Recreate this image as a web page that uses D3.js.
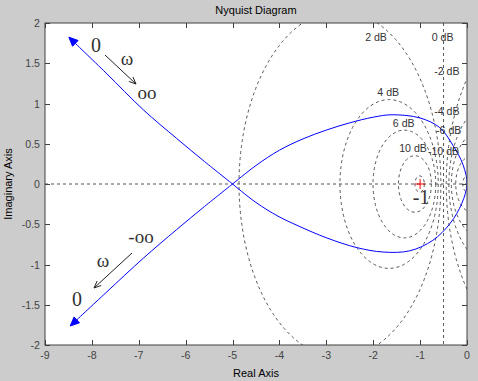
<!DOCTYPE html>
<html><head><meta charset="utf-8">
<script src="https://cdn.jsdelivr.net/npm/d3@7"></script>
<style>html,body{margin:0;padding:0;background:#cccccc;}svg{display:block;}</style>
</head><body>
<script>
// ---- data ----
const xTicks = [-9,-8,-7,-6,-5,-4,-3,-2,-1,0];
const yTicks = [-2,-1.5,-1,-0.5,0,0.5,1,1.5,2];
const gridDb = [-20,-10,-6,-4,-2,0,2,4,6,10,20];
const dbLabelText = ["2 dB","0 dB","-2 dB","4 dB","-4 dB","6 dB","-6 dB","10 dB","-10 dB"];
const dbLabelX = [-1.94,-0.52,-0.43,-1.68,-0.43,-1.35,-0.39,-1.15,-0.50];
const dbLabelY = [1.78,1.78,1.35,1.09,0.857,0.708,0.62,0.40,0.36];
// Nyquist curve branches (real, imag)
const upperLeftRe = [-5,-5.6,-6.2,-6.9,-7.7,-8.43];
const upperLeftIm = [0,0.28,0.57,0.92,1.38,1.79];
const lowerLeftRe = [-5,-5.6,-6.2,-6.9,-7.7,-8.40];
const lowerLeftIm = [0,-0.28,-0.57,-0.92,-1.35,-1.73];
const loopRe = [-5,-4.5,-4.03,-3.60,-2.99,-2.35,-1.79,-1.22,-0.73,-0.36,-0.11,0,-0.085,-0.30,-0.58,-1.00,-1.6,-2.0,-2.5,-3.0,-3.5,-4.0,-4.5,-5];
const loopIm = [0,-0.23,-0.40,-0.52,-0.67,-0.79,-0.845,-0.83,-0.70,-0.49,-0.24,0,0.24,0.48,0.70,0.82,0.86,0.83,0.76,0.67,0.56,0.42,0.23,0];

const W = 478, H = 381;
const L = 45, R = 467, T = 23, B = 345;
const x = d3.scaleLinear().domain([-9,0]).range([L,R]);
const y = d3.scaleLinear().domain([-2,2]).range([B,T]);

const svg = d3.select("body").append("svg").attr("width",W).attr("height",H);
svg.append("rect").attr("width",W).attr("height",H).attr("fill","#cccccc");
svg.append("rect").attr("x",L).attr("y",T).attr("width",R-L).attr("height",B-T).attr("fill","#ffffff");
svg.append("clipPath").attr("id","clip").append("rect").attr("x",L).attr("y",T).attr("width",R-L).attr("height",B-T);

const g = svg.append("g").attr("clip-path","url(#clip)");
const gridStyle = s => s.attr("fill","none").attr("stroke","#555").attr("stroke-width",1).attr("stroke-dasharray","3,3");

// M-circles
gridDb.forEach(db => {
  if (db === 0) {
    g.append("line").attr("x1",x(-0.5)).attr("x2",x(-0.5)).attr("y1",T).attr("y2",B).call(gridStyle);
    return;
  }
  const M = Math.pow(10, db/20), M2 = M*M;
  const c = -M2/(M2-1), r = Math.abs(M/(M2-1));
  g.append("ellipse").attr("cx",x(c)).attr("cy",y(0))
    .attr("rx",x(r)-x(0)).attr("ry",y(0)-y(r)).call(gridStyle);
});
g.append("line").attr("x1",L).attr("x2",R).attr("y1",y(0)).attr("y2",y(0)).call(gridStyle);

// dB labels
dbLabelText.forEach((t,i) => {
  svg.append("text").attr("x",x(dbLabelX[i])).attr("y",y(dbLabelY[i]))
    .attr("text-anchor","middle").attr("font-family","'Liberation Sans',Arial,sans-serif")
    .attr("font-size","10.6px").attr("fill","#333").text(t);
});

// Nyquist curve
const zip = (a,b) => a.map((v,i)=>[v,b[i]]);
const smooth = d3.line().x(d=>x(d[0])).y(d=>y(d[1])).curve(d3.curveCatmullRom.alpha(0.5));
const loop = zip(loopRe,loopIm), ul = zip(upperLeftRe,upperLeftIm), ll = zip(lowerLeftRe,lowerLeftIm);
g.append("path").attr("d",smooth(loop)).attr("fill","none").attr("stroke","#0000ff").attr("stroke-width",1);
[ul, ll].forEach(p => g.append("path").attr("d",smooth(p)).attr("fill","none").attr("stroke","#0000ff").attr("stroke-width",1));

// arrowheads at the ends of the left branches
[ul, ll].forEach(p => {
  const a = p[p.length-2], b = p[p.length-1];
  const px = x(b[0]), py = y(b[1]);
  const dx = px - x(a[0]), dy = py - y(a[1]);
  const len = Math.hypot(dx,dy), ux = dx/len, uy = dy/len;
  const tipX = px + ux*4, tipY = py + uy*4;
  const bx = tipX - ux*9, by = tipY - uy*9;
  const pts = [[tipX,tipY],[bx - uy*4, by + ux*4],[bx + uy*4, by - ux*4]];
  svg.append("path").attr("d","M"+pts.map(q=>q.join(",")).join("L")+"Z").attr("fill","#0000ff").attr("stroke","#0000ff");
});

// critical point
g.append("path").attr("d",`M${x(-1)-5},${y(0)}H${x(-1)+5}M${x(-1)},${y(0)-5}V${y(0)+5}`)
  .attr("stroke","#ff0000").attr("stroke-width",1).attr("fill","none");

// axes box
svg.append("rect").attr("x",L).attr("y",T).attr("width",R-L).attr("height",B-T)
  .attr("fill","none").attr("stroke","#404040").attr("stroke-width",1);

const tickFont = "'Liberation Sans',Arial,sans-serif";
xTicks.forEach(v => {
  const px = Math.round(x(v))+0.5;
  svg.append("line").attr("x1",px).attr("x2",px).attr("y1",B).attr("y2",B-5).attr("stroke","#404040");
  svg.append("line").attr("x1",px).attr("x2",px).attr("y1",T).attr("y2",T+5).attr("stroke","#404040");
  svg.append("text").attr("x",x(v)).attr("y",359).attr("text-anchor","middle")
    .attr("font-family",tickFont).attr("font-size","10.6px").attr("fill","#444").text(String(v));
});
yTicks.forEach(v => {
  const py = Math.round(y(v))+0.5;
  svg.append("line").attr("x1",L).attr("x2",L+5).attr("y1",py).attr("y2",py).attr("stroke","#404040");
  svg.append("line").attr("x1",R).attr("x2",R-5).attr("y1",py).attr("y2",py).attr("stroke","#404040");
  svg.append("text").attr("x",40).attr("y",y(v)+4).attr("text-anchor","end")
    .attr("font-family",tickFont).attr("font-size","10.6px").attr("fill","#444").text(String(v));
});

// titles
svg.append("text").attr("x",(L+R)/2).attr("y",14).attr("text-anchor","middle")
  .attr("font-family",tickFont).attr("font-size","11px").attr("fill","#000").text("Nyquist Diagram");
svg.append("text").attr("x",(L+R)/2).attr("y",377).attr("text-anchor","middle")
  .attr("font-family",tickFont).attr("font-size","11px").attr("fill","#000").text("Real Axis");
svg.append("text").attr("transform",`translate(12,${(T+B)/2}) rotate(-90)`).attr("text-anchor","middle")
  .attr("font-family",tickFont).attr("font-size","11px").attr("fill","#000").text("Imaginary Axis");

// annotations (serif)
const serif = "'Liberation Serif','Times New Roman',serif";
const ann = (t,px,py,fs) => svg.append("text").attr("x",px).attr("y",py).attr("text-anchor","middle")
  .attr("font-family",serif).attr("font-size",fs).attr("fill","#333").text(t);
ann("0",96,52,"20px");
ann("ω",127,65,"19px");
ann("oo",147,99,"19px");
ann("-oo",141,243,"19px");
ann("ω",103,267,"19px");
ann("0",77,306,"20px");
ann("-1",x(-1)+1,204,"20px");

// small black arrows
const arrow = (x1,y1,x2,y2) => {
  svg.append("line").attr("x1",x1).attr("y1",y1).attr("x2",x2).attr("y2",y2).attr("stroke","#222").attr("stroke-width",1);
  const dx=x2-x1, dy=y2-y1, len=Math.hypot(dx,dy), ux=dx/len, uy=dy/len;
  const bx=x2-ux*7, by=y2-uy*7;
  svg.append("path").attr("d",`M${bx-uy*3},${by+ux*3}L${x2},${y2}L${bx+uy*3},${by-ux*3}`)
    .attr("fill","none").attr("stroke","#222").attr("stroke-width",1);
};
arrow(105,55,136,84);
arrow(132,253,94,288);
</script>
</body></html>
